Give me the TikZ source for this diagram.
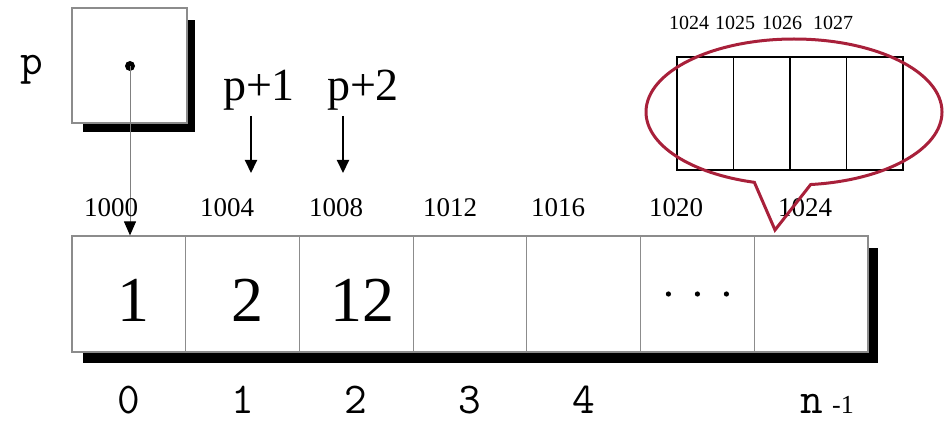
\documentclass[tikz,border=0pt]{standalone}
\usepackage{fontspec}
\setmainfont{Liberation Serif}
\usetikzlibrary{arrows.meta,shapes.callouts}
\definecolor{calloutred}{HTML}{A8203A}
\definecolor{bordergray}{gray}{0.55}
\tikzset{
  x=1pt,y=-1pt,
  cellbox/.style={draw=bordergray,line width=1.2pt,fill=white,minimum width=113.71pt,minimum height=116pt,inner sep=0pt},
  valtext/.style={font=\fontsize{64}{64}\selectfont,inner sep=0pt},
  zcell/.style={draw=black,line width=1.6pt,minimum width=56.5pt,minimum height=113pt,inner sep=0pt},
  addr/.style={font=\fontsize{27}{27}\selectfont,inner sep=0pt},
  saddr/.style={font=\fontsize{20}{20}\selectfont,inner sep=0pt},
  idx/.style={font=\ttfamily\fontsize{44}{44}\selectfont,inner sep=0pt,anchor=base},
  ptrlabel/.style={font=\fontsize{46}{46}\selectfont,inner sep=0pt},
  ptrarrow/.style={line width=2pt,-{Triangle[length=13pt,width=12pt]}},
}
\begin{document}
\begin{tikzpicture}
\useasboundingbox (0,0) rectangle (949,422);
% pointer box p
\fill[black] (83,20) rectangle (195,132);
\node[draw=bordergray,line width=1.2pt,fill=white,minimum width=115pt,minimum height=115pt,inner sep=0pt] (pbox) at (129.5,65.5) {};
\node[idx] (plabel) at (32,75) {p};
\fill (130,66) circle (5pt);
\coordinate (dot) at (130,66);
% main array shadow
\fill[black] (83,248) rectangle (878,363);
% cells
\foreach \i in {0,...,6}{
  \node[cellbox] (c\i) at ({72+(\i+0.5)*113.71},294) {};
}
\node[valtext] (v0) at ([xshift=5pt,yshift=-6pt]c0.center) {1};
\node[valtext] (v1) at ([xshift=5pt,yshift=-6pt]c1.center) {2};
\node[valtext] (v2) at ([xshift=6pt,yshift=-6pt]c2.center) {12};
\foreach \dx in {-29,0,29}{ \fill ([xshift=\dx pt]c5.center) circle (2.6pt); }
% pointer from p
\draw[gray,line width=1pt,-{Triangle[length=14pt,width=12pt,color=black]}] (dot) -- (dot |- c0.north);
% p+1, p+2
\node[ptrlabel] (pp1) at (259,90) {p+1};
\node[ptrlabel] (pp2) at (363,90) {p+2};
\coordinate (a1s) at (251,116); \coordinate (a1e) at (251,173);
\coordinate (a2s) at (343,116); \coordinate (a2e) at (343,173);
\draw[ptrarrow] (a1s) -- (a1e);
\draw[ptrarrow] (a2s) -- (a2e);
% addresses
\node[addr] (ad0) at (111,208) {1000};
\node[addr] (ad1) at (227,208) {1004};
\node[addr] (ad2) at (336,208) {1008};
\node[addr] (ad3) at (450,208) {1012};
\node[addr] (ad4) at (558,208) {1016};
\node[addr] (ad5) at (676,208) {1020};
\node[addr] (ad6) at (805,208) {1024};
% indices
\foreach \i/\t in {0/0,1/1,2/2,3/3,4/4}{
  \node[idx] (ix\i) at (c\i |- 0,413) {\t};
}
\node[idx] (ixn) at (812,413) {n};
\node[font=\fontsize{26}{26}\selectfont,inner sep=0pt,anchor=base west] (ixm) at (832,413) {-1};
% zoomed bytes
\foreach \i in {0,1,2,3}{
  \node[zcell] (z\i) at ({677+(\i+0.5)*56.5},113.5) {};
}
\node[saddr] (b0) at (689,23) {1024};
\node[saddr] (b1) at (735,23) {1025};
\node[saddr] (b2) at (782,23) {1026};
\node[saddr] (b3) at (833,23) {1027};
% callout
\node[ellipse callout,draw=calloutred,line width=3pt,minimum width=296pt,minimum height=146pt,inner sep=0pt,
  callout absolute pointer={(775,230)},callout pointer arc=22] (zoomc) at (794,112) {};
\end{tikzpicture}
\end{document}
